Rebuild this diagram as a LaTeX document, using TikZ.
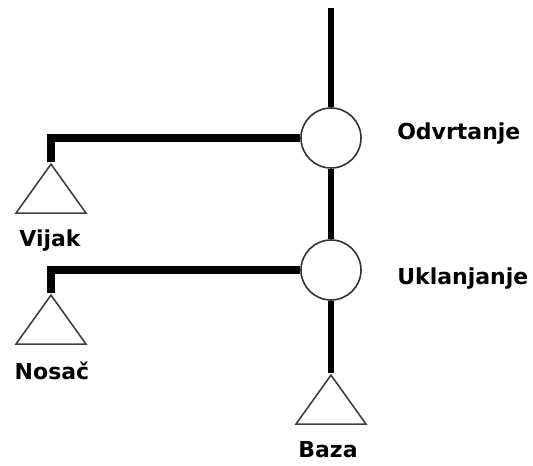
\documentclass[tikz,border=0pt]{standalone}
\usepackage{fontspec}
\setmainfont{DejaVu Sans}
\usetikzlibrary{shapes.geometric}

\begin{document}
\begin{tikzpicture}[x=0.75pt, y=-0.75pt,
        joint/.style={draw=black!80, line width=1.2pt, circle, fill=white, minimum size=45pt, inner sep=0pt},
        support/.style={draw=black!75, line width=1.2pt, isosceles triangle, isosceles triangle stretches, shape border rotate=90, minimum width=52.5pt, minimum height=36.75pt, inner sep=0pt, anchor=apex},
        partname/.style={font=\bfseries\fontsize{16.5}{19}\selectfont, inner sep=0pt},
        trunk/.style={line width=5pt},
        branch/.style={line width=5.8pt, line join=miter}]
        \useasboundingbox (0,0) rectangle (533,466);

        \coordinate (top) at (331,8);
        \node[joint] (odvrtanje) at (331,138) {};
        \node[joint] (uklanjanje) at (331,270) {};

        \node[support] (vijak) at (51,162) {};
        \node[support] (nosac) at (51,293) {};
        \node[support] (baza) at (331,373) {};

        \node[partname, anchor=base west] (t-odvrtanje) at (397,140) {Odvrtanje};
        \node[partname, anchor=base west] (t-uklanjanje) at (397,285) {Uklanjanje};
        \node[partname, anchor=base] (t-vijak) at (50,247) {Vijak};
        \node[partname, anchor=base] (t-nosac) at (52,380) {Nosač};
        \node[partname, anchor=base] (t-baza) at (328,458) {Baza};

        \draw[trunk] (top) -- (odvrtanje);
        \draw[trunk] (odvrtanje) -- (uklanjanje);
        \draw[trunk] (uklanjanje) -- (baza.apex);

        \draw[branch] (odvrtanje.west) -| (vijak.apex);
        \draw[branch] (uklanjanje.west) -| (nosac.apex);

    \end{tikzpicture}
\end{document}
